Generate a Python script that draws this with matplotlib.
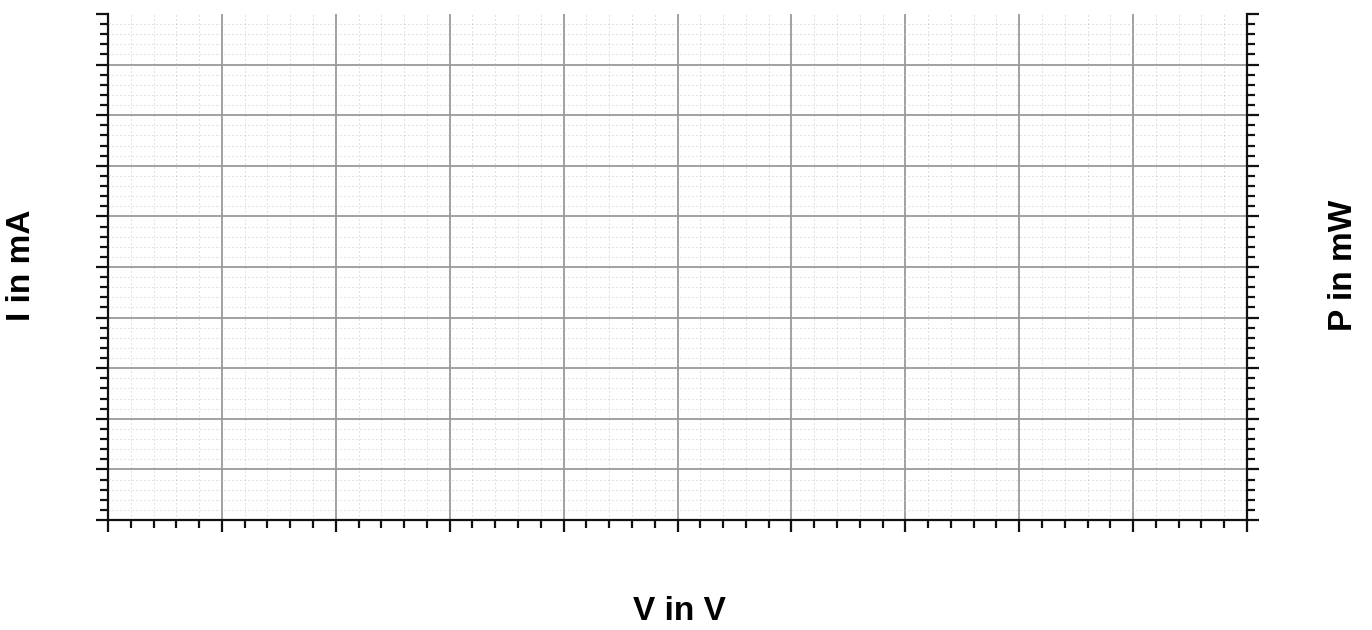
import numpy as np
import matplotlib
matplotlib.use("Agg")
import matplotlib.pyplot as plt
from matplotlib.ticker import FixedLocator, NullFormatter

matplotlib.rcParams['font.family'] = ['Liberation Sans', 'DejaVu Sans']

# axis setup (no data series in the reference, only the empty grid)
x_label = 'V in V'
y_label_left = 'I in mA'
y_label_right = 'P in mW'
x_range = [0, 10]
y_range = [0, 10]
x_major = list(range(0, 11))
y_major = list(range(0, 11))
x_minor = [v / 5 for v in range(0, 51) if v % 5]
y_minor = [v / 5 for v in range(0, 51) if v % 5]

fig = plt.figure(figsize=(13.72, 6.3), dpi=100)
ax = fig.add_axes([108 / 1372, 110 / 630, (1247 - 108) / 1372, (520 - 14) / 630])

ax.set_xlim(x_range)
ax.set_ylim(y_range)
ax.xaxis.set_major_locator(FixedLocator(x_major))
ax.yaxis.set_major_locator(FixedLocator(y_major))
ax.xaxis.set_minor_locator(FixedLocator(x_minor))
ax.yaxis.set_minor_locator(FixedLocator(y_minor))
ax.xaxis.set_major_formatter(NullFormatter())
ax.yaxis.set_major_formatter(NullFormatter())

ax.grid(True, which='minor', color='#c4c4c4', linewidth=0.72, linestyle=(0, (1, 3)))
ax.grid(True, which='major', color='#9a9a9a', linewidth=1.3, linestyle='-')
ax.set_axisbelow(True)
# no gridline along the top edge
ax.yaxis.get_gridlines()[-1].set_visible(False)

for side in ['left', 'right', 'bottom']:
    ax.spines[side].set_linewidth(1.6)
    ax.spines[side].set_color('#111111')
ax.spines['top'].set_visible(False)

ax.tick_params(which='both', direction='out', left=True, right=True, top=False, bottom=True,
               color='#111111', width=1.6)
ax.tick_params(which='major', length=8.6)
ax.tick_params(which='minor', length=5.8)

fig.text(22 / 1372, 1 - 265 / 630, y_label_left, rotation=90, ha='center', va='center',
         fontsize=24, fontweight='bold')
fig.text(1343 / 1372, 1 - 265 / 630, y_label_right, rotation=90, ha='center', va='center',
         fontsize=24, fontweight='bold')
fig.text(679 / 1372, 1 - 611 / 630, x_label, ha='center', va='center',
         fontsize=24, fontweight='bold')

fig.savefig('out.png', dpi=100)
